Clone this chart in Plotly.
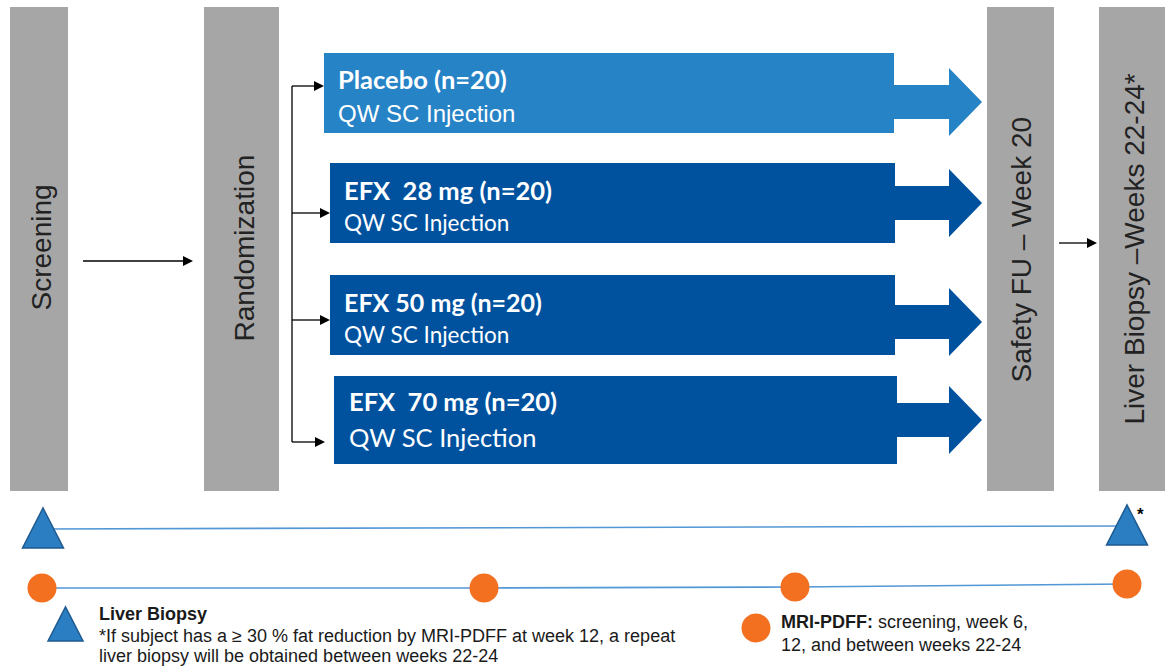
import plotly.graph_objects as go

# ---------------- data (text content of the diagram) ----------------
stage_labels = ["Screening", "Randomization", "Safety FU – Week 20", "Liver Biopsy –Weeks 22-24*"]
arm_titles = ["Placebo (n=20)", "EFX\u00a0 28 mg (n=20)", "EFX 50 mg (n=20)", "EFX\u00a0 70 mg (n=20)"]
arm_subtitles = ["QW SC Injection", "QW SC Injection", "QW SC Injection", "QW SC Injection"]
biopsy_marks = ["Screening", "Weeks 22-24"]
mri_marks = ["Screening", "Week 6", "Week 12", "Weeks 22-24"]
legend_biopsy_lines = ["<b>Liver Biopsy</b>",
                       "*If subject has a \u2265 30 % fat reduction by MRI-PDFF at week 12, a repeat",
                       "liver biopsy will be obtained between weeks 22-24"]
legend_mri_lines = ["<b>MRI-PDFF:</b> screening, week 6,", "12, and between weeks 22-24"]

# ---------------- layout geometry (pixel space) ----------------
W, H = 1165, 670
stage_x = [(10, 68), (204, 279), (987, 1054), (1099, 1165)]
stage_y = (7, 491)
stage_text_x = [40.5, 243.5, 1020.5, 1133.5]
stage_text_y = [248, 248, 250, 249]

arm_box = [(324, 894, 53, 133), (330, 895, 163, 243), (330, 895, 275, 355), (334, 897, 376, 464)]
arm_color = ["#2683C6", "#00529F", "#00529F", "#00529F"]
arm_arrow_cy = [102, 203, 322, 420]
arm_text_x = [336, 342, 342, 347]
arm_title_y = [79, 190, 302, 401]
arm_sub_y = [113, 222, 334, 437]
arm_sub_font = [("Liberation Sans", 24), ("Lato", 22.5), ("Lato", 22.5), ("Lato", 25.5)]
arm_title_size = [25.5, 25.5, 25, 25.5]

bracket_x = 292
branch_y = [86, 213, 320, 442]
branch_end = [324, 330, 330, 325]

biopsy_x = [43, 1127]
biopsy_y = [529, 526]
mri_x = [42, 484, 795, 1127]
mri_y = [588, 588, 587, 584]

GRAY = "#A6A6A6"
TRI_FILL = "#2A7EC1"
TRI_EDGE = "#1E5A90"
ORANGE = "#F37021"
LINE_BLUE = "#5297D6"

fig = go.Figure()
shapes = []
ann = []

# gray stage bars
for (x0, x1), lab, tx, ty in zip(stage_x, stage_labels, stage_text_x, stage_text_y):
    shapes.append(dict(type="rect", x0=x0, x1=x1, y0=stage_y[0], y1=stage_y[1],
                       fillcolor=GRAY, line=dict(width=0), layer="below"))
    ann.append(dict(x=tx, y=ty, text=lab, textangle=-90, showarrow=False,
                    xanchor="center", yanchor="middle",
                    font=dict(family="Liberation Sans, Arial", size=28, color="#222222")))

def black_arrow(x0, x1, y):
    shapes.append(dict(type="line", x0=x0, x1=x1 - 8, y0=y, y1=y,
                       line=dict(color="black", width=1.3)))
    shapes.append(dict(type="path", path=f"M{x1-10},{y-5} L{x1},{y} L{x1-10},{y+5} Z",
                       fillcolor="black", line=dict(width=0)))

# screening -> randomization
black_arrow(83, 193, 261)
# safety -> liver biopsy
black_arrow(1059, 1097, 243)
# bracket
shapes.append(dict(type="line", x0=bracket_x, x1=bracket_x, y0=branch_y[0], y1=branch_y[-1],
                   line=dict(color="black", width=1.3)))
for by, be in zip(branch_y, branch_end):
    black_arrow(bracket_x, be, by)

# treatment arms
for i in range(len(arm_titles)):
    x0, x1, y0, y1 = arm_box[i]
    c = arm_color[i]
    cy = arm_arrow_cy[i]
    sh, hh, hx, tip = 17, 34, 949, 982
    shapes.append(dict(type="path",
                       path=(f"M{x1-2},{cy-sh} L{hx},{cy-sh} L{hx},{cy-hh} L{tip},{cy} "
                             f"L{hx},{cy+hh} L{hx},{cy+sh} L{x1-2},{cy+sh} Z"),
                       fillcolor=c, line=dict(width=0)))
    shapes.append(dict(type="rect", x0=x0, x1=x1, y0=y0, y1=y1, fillcolor=c, line=dict(width=0)))
    ann.append(dict(x=arm_text_x[i], y=arm_title_y[i], text=f"<b>{arm_titles[i]}</b>",
                    showarrow=False, xanchor="left", yanchor="middle",
                    font=dict(family="Lato", size=arm_title_size[i], color="white")))
    fam, sz = arm_sub_font[i]
    ann.append(dict(x=arm_text_x[i], y=arm_sub_y[i], text=arm_subtitles[i],
                    showarrow=False, xanchor="left", yanchor="middle",
                    font=dict(family=fam, size=sz, color="white")))

# timelines
fig.add_trace(go.Scatter(x=biopsy_x, y=biopsy_y, mode="lines", text=biopsy_marks,
                         line=dict(color=LINE_BLUE, width=1.6), hoverinfo="text", showlegend=False))
fig.add_trace(go.Scatter(x=mri_x, y=mri_y, mode="lines+markers", text=mri_marks,
                         line=dict(color=LINE_BLUE, width=1.6),
                         marker=dict(size=29, color=ORANGE, line=dict(width=0)),
                         hoverinfo="text", showlegend=False))

def triangle(cx, cy, up=21, down=19, hw=20.5):
    shapes.append(dict(type="path",
                       path=f"M{cx-hw},{cy+down} L{cx},{cy-up} L{cx+hw},{cy+down} Z",
                       fillcolor=TRI_FILL, line=dict(color=TRI_EDGE, width=1.5)))

for bx, byy in zip(biopsy_x, biopsy_y):
    triangle(bx, byy)
ann.append(dict(x=1140, y=514, text="<b>*</b>", showarrow=False, xanchor="center", yanchor="middle",
                font=dict(family="Liberation Sans, Arial", size=17, color="black")))

# legend
triangle(65.5, 624, up=17, down=17, hw=17.5)
shapes.append(dict(type="circle", x0=756 - 14.5, x1=756 + 14.5, y0=628 - 14.5, y1=628 + 14.5,
                   fillcolor=ORANGE, line=dict(width=0)))
for txt, yy in zip(legend_biopsy_lines, [614, 636, 656]):
    ann.append(dict(x=97, y=yy, text=txt, showarrow=False, xanchor="left", yanchor="middle",
                    font=dict(family="Liberation Sans, Arial", size=18, color="#1a1a1a")))
for txt, yy in zip(legend_mri_lines, [622, 645]):
    ann.append(dict(x=779, y=yy, text=txt, showarrow=False, xanchor="left", yanchor="middle",
                    font=dict(family="Liberation Sans, Arial", size=18, color="#1a1a1a")))

fig.update_layout(
    width=W, height=H, margin=dict(l=0, r=0, t=0, b=0),
    paper_bgcolor="white", plot_bgcolor="white",
    xaxis=dict(range=[0, W], visible=False, fixedrange=True),
    yaxis=dict(range=[H, 0], visible=False, fixedrange=True),
    shapes=shapes, annotations=ann, showlegend=False,
)
fig.write_html("out.html", config={"displayModeBar": False},
               post_script="document.body.style.margin='0';")
